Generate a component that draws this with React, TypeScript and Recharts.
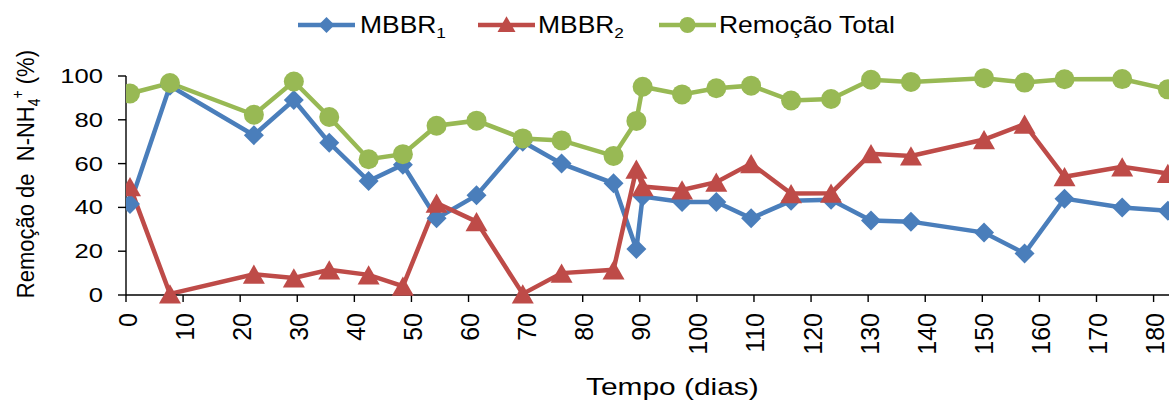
import { CartesianGrid, Line, LineChart, XAxis, YAxis } from "recharts";

// dias de operação
const DIAS = [0.7, 7.7, 22.4, 29.4, 35.6, 42.5, 48.5, 54.4, 61.4, 69.5, 76.3, 85.4, 89.4, 90.5, 97.4, 103.4, 109.5, 116.5, 123.5, 130.5, 137.5, 150.3, 157.4, 164.4, 174.5, 182.5];

// remoção de N-NH4+ (%)
const MBBR1 = [41.5, 95.5, 73, 89, 69.5, 52, 59.5, 35, 45.5, 70, 60, 51, 21, 45, 42.5, 42.5, 35, 43, 43.5, 34, 33.5, 28.5, 19, 44, 40, 38.5];
const MBBR2 = [49.5, 0.5, 9.5, 7.8, 11.5, 9.2, 4, 42, 33.5, 0.5, 10, 11.5, 57.5, 49.5, 48, 51.5, 60, 46.3, 46.5, 64.5, 63.5, 71, 78, 54, 58.5, 55.5];
const TOTAL = [92, 96.8, 82.3, 97.5, 81.3, 62, 64.3, 77.3, 79.6, 71.5, 70.6, 63.5, 79.5, 95.1, 91.6, 94.4, 95.6, 88.8, 89.5, 98.3, 97.3, 99, 97, 98.5, 98.6, 93.9];

const X_TICKS = [0, 10, 20, 30, 40, 50, 60, 70, 80, 90, 100, 110, 120, 130, 140, 150, 160, 170, 180];
const Y_TICKS = [0, 20, 40, 60, 80, 100];

const AZUL = "#4a7ebb";
const VERMELHO = "#be4b48";
const VERDE = "#98b954";
const FONTE = "'Liberation Sans', Arial, sans-serif";

const dados = DIAS.map((dia, i) => ({
  dia,
  mbbr1: MBBR1[i],
  mbbr2: MBBR2[i],
  total: TOTAL[i],
}));

function Losango({ cx, cy, r, fill }: { cx: number; cy: number; r: number; fill: string }) {
  return <polygon points={`${cx},${cy - r} ${cx + r},${cy} ${cx},${cy + r} ${cx - r},${cy}`} fill={fill} />;
}

function Triangulo({ cx, cy, r, fill }: { cx: number; cy: number; r: number; fill: string }) {
  const h = r * 1.75;
  return <polygon points={`${cx},${cy - h / 2} ${cx + r},${cy + h / 2} ${cx - r},${cy + h / 2}`} fill={fill} />;
}

const dotAzul = (p: any) => <Losango key={p.key ?? p.index} cx={p.cx} cy={p.cy} r={10} fill={AZUL} />;
const dotVermelho = (p: any) => <Triangulo key={p.key ?? p.index} cx={p.cx} cy={p.cy} r={11} fill={VERMELHO} />;
const dotVerde = (p: any) => <circle key={p.key ?? p.index} cx={p.cx} cy={p.cy} r={10} fill={VERDE} />;

function YTick(props: any) {
  const { x, y, payload } = props;
  return (
    <text transform={`translate(${x},${y + 7}) scale(1.28,1)`} textAnchor="end" fontSize={20} fontFamily={FONTE} fill="#000">
      {payload.value}
    </text>
  );
}

function XTick(props: any) {
  const { x, y, payload } = props;
  return (
    <text transform={`translate(${x + 10.5},${y}) rotate(-90)`} textAnchor="end" fontSize={25} fontFamily={FONTE} fill="#000">
      {payload.value}
    </text>
  );
}

function Legenda() {
  const txt = { fontSize: 23, fontFamily: FONTE, fill: "#000" };
  return (
    <svg width={1174} height={403} style={{ position: "absolute", left: 0, top: 0, pointerEvents: "none" }}>
      <line x1={298} x2={355} y1={25} y2={25} stroke={AZUL} strokeWidth={4.5} />
      <Losango cx={326.5} cy={25} r={8} fill={AZUL} />
      <text transform="translate(360,32.5) scale(1.15,1)" {...txt}>
        MBBR<tspan fontSize={15} dy={5}>1</tspan>
      </text>

      <line x1={478} x2={535} y1={25} y2={25} stroke={VERMELHO} strokeWidth={4.5} />
      <Triangulo cx={506.5} cy={24} r={9} fill={VERMELHO} />
      <text transform="translate(538,32.5) scale(1.15,1)" {...txt}>
        MBBR<tspan fontSize={15} dy={5}>2</tspan>
      </text>

      <line x1={659} x2={716} y1={25} y2={25} stroke={VERDE} strokeWidth={4.5} />
      <circle cx={687.5} cy={25} r={8} fill={VERDE} />
      <text transform="translate(719,32.5) scale(1.15,1)" {...txt}>
        Remoção Total
      </text>

      {/* título do eixo y */}
      <text transform="translate(34,50) scale(1.12,1) rotate(-90)" textAnchor="end" fontSize={22} fontFamily={FONTE} fill="#000">
        Remoção de{"\u00a0\u00a0"}N-NH<tspan fontSize={14} dy={5}>4</tspan>
        <tspan fontSize={14} dy={-15}>+</tspan>
        <tspan dy={10}> (%)</tspan>
      </text>

      {/* título do eixo x */}
      <text transform="translate(586,395) scale(1.3,1)" fontSize={23} fontFamily={FONTE} fill="#000">
        Tempo (dias)
      </text>
    </svg>
  );
}

export default function App() {
  return (
    <div style={{ position: "absolute", left: 0, top: 0, width: 1174, height: 403, background: "#fff" }}>
      <LineChart width={1174} height={403} data={dados} margin={{ top: 76, right: 5, left: 0, bottom: 0 }}>
        <CartesianGrid horizontal={false} vertical={false} />
        <XAxis
          dataKey="dia"
          type="number"
          domain={[0, 182.7]}
          ticks={X_TICKS}
          interval={0}
          height={108}
          tickSize={7}
          tickMargin={11}
          tick={<XTick />}
          axisLine={{ stroke: "#000", strokeWidth: 1.4 }}
          tickLine={{ stroke: "#000", strokeWidth: 1.4 }}
          allowDataOverflow
        />
        <YAxis
          type="number"
          domain={[0, 100]}
          ticks={Y_TICKS}
          width={126}
          tickSize={8}
          tickMargin={15}
          tick={<YTick />}
          axisLine={{ stroke: "#000", strokeWidth: 1.4 }}
          tickLine={{ stroke: "#000", strokeWidth: 1.4 }}
        />
        <Line type="linear" dataKey="mbbr1" stroke={AZUL} strokeWidth={4.5} dot={dotAzul} activeDot={false} isAnimationActive={false} />
        <Line type="linear" dataKey="mbbr2" stroke={VERMELHO} strokeWidth={4.5} dot={dotVermelho} activeDot={false} isAnimationActive={false} />
        <Line type="linear" dataKey="total" stroke={VERDE} strokeWidth={4.5} dot={dotVerde} activeDot={false} isAnimationActive={false} />
      </LineChart>
      <Legenda />
    </div>
  );
}
